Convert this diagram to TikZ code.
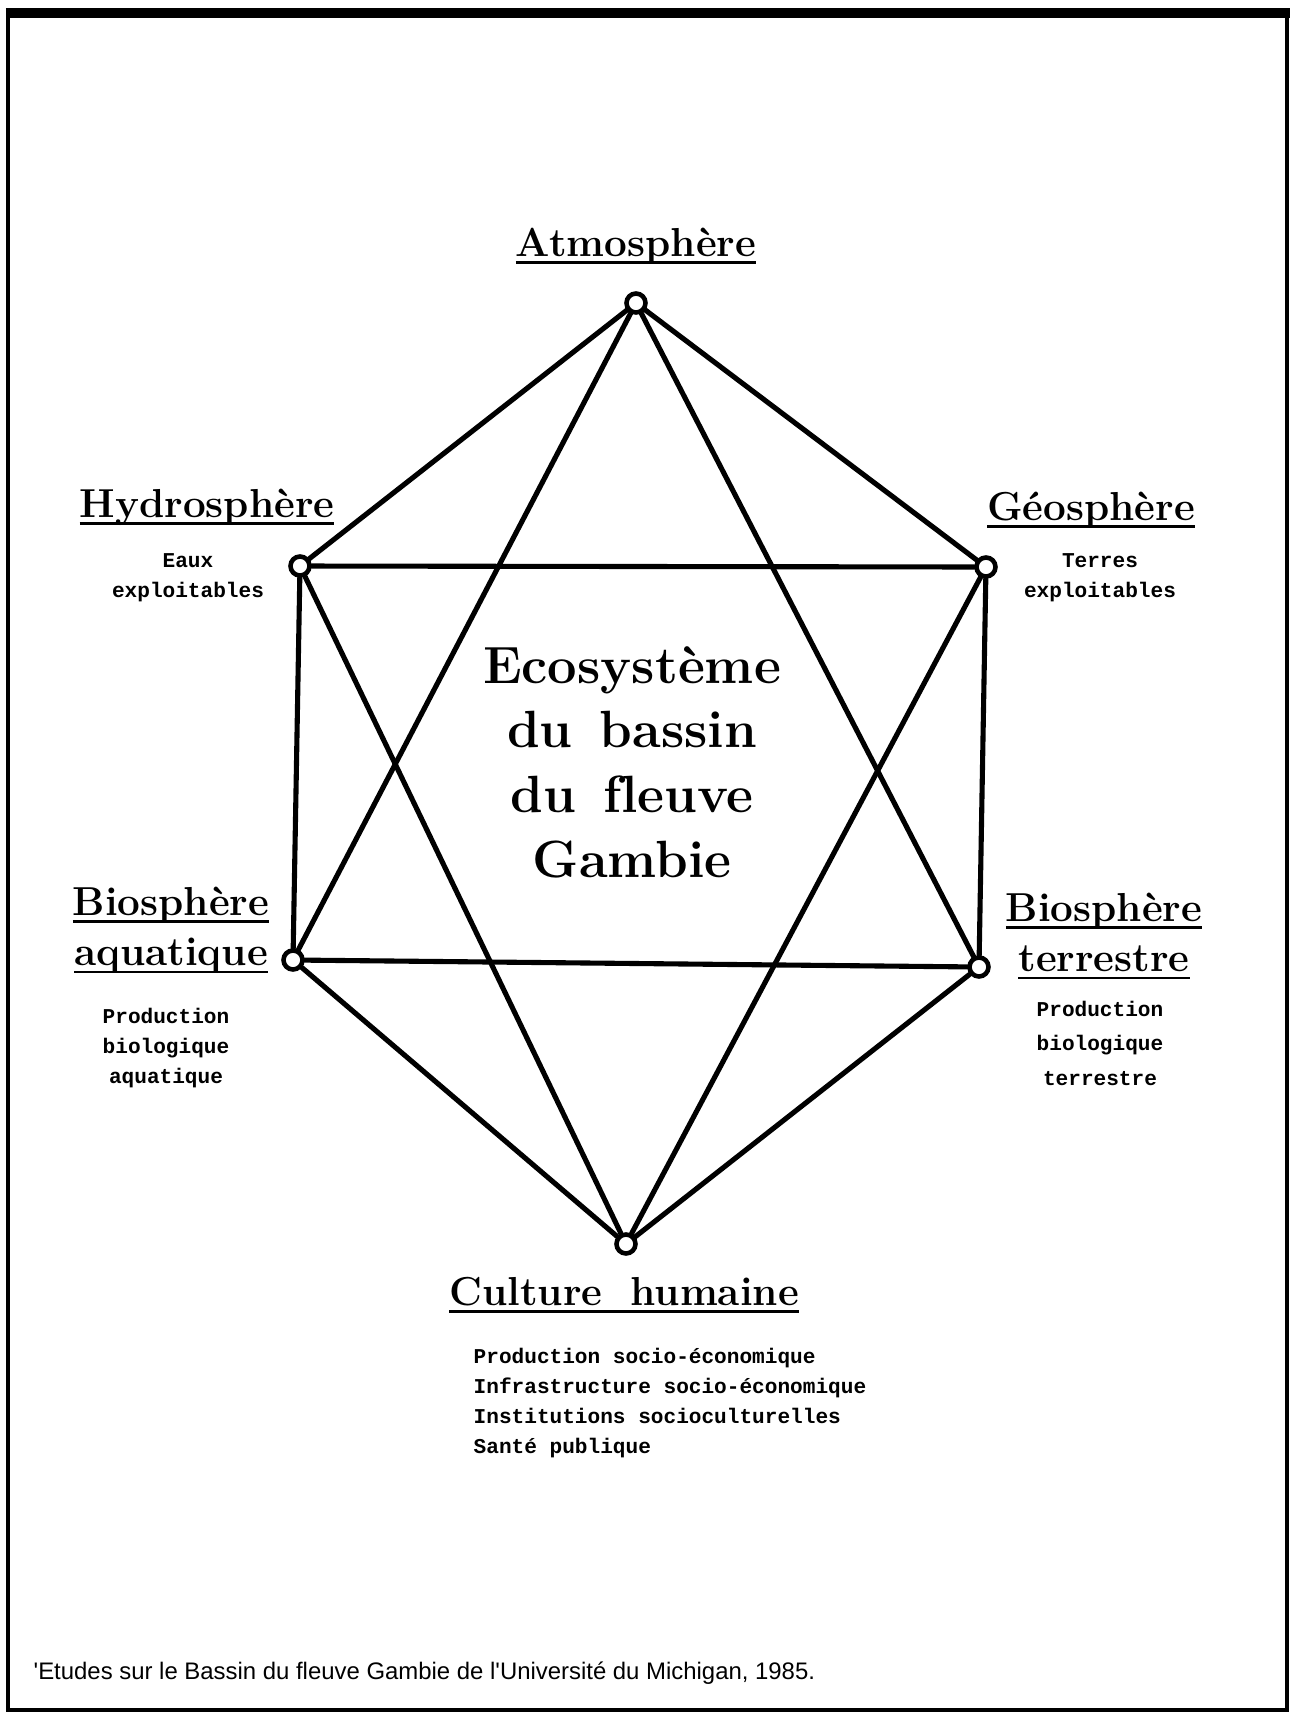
\documentclass[tikz,border=0pt]{standalone}
\usepackage{fontspec}
\newfontfamily\printfont{Liberation Mono}
\newfontfamily\notefont{Liberation Sans}
\usetikzlibrary{positioning}

% underline that runs through the descenders
\newcommand\souligne[1]{\setbox0\hbox{#1}\rlap{\rule[-2.2pt]{\wd0}{0.75pt}}\box0}
\newcommand\grandespace{\spaceskip=0.52em\relax}

\begin{document}
\begin{tikzpicture}[
    x=0.01cm, y=-0.01cm,
    sommet/.style={circle, draw, fill=white, line width=1.3pt,
                   minimum size=5.4pt, inner sep=0pt},
    lien/.style={line width=1.45pt, line cap=round},
    titre/.style={font=\fontsize{11.5}{14.4}\selectfont\bfseries, align=center},
    note/.style={font=\fontsize{6}{8.6}\selectfont\printfont\bfseries, align=center},
    centre/.style={font=\fontsize{14.9}{18.4}\selectfont\bfseries\grandespace,
                   align=center},
  ]
  \useasboundingbox (0,0) rectangle (1293,1717);

  % --- frame ---
  \draw[line width=1.2pt] (8,13) rectangle (1287,1710);
  \draw[line width=2.8pt] (6,13) -- (1290,13);

  % --- the six spheres ---
  \node[sommet] (atm)  at (636,303)  {};
  \node[sommet] (hyd)  at (300,566)  {};
  \node[sommet] (geo)  at (986,567)  {};
  \node[sommet] (bioA) at (293,960)  {};
  \node[sommet] (bioT) at (979,967)  {};
  \node[sommet] (cult) at (626,1244) {};

  % hexagon and the two triangles
  \foreach \a/\b in {atm/hyd, atm/geo, hyd/geo, hyd/bioA, geo/bioT, bioA/bioT,
                     bioA/cult, bioT/cult, atm/bioA, atm/bioT, hyd/cult, geo/cult}
    \draw[lien] (\a) -- (\b);

  % --- labels ---
  \node[titre] (atmT) at (636,246) {\souligne{Atmosphère}};

  \node[titre] (hydT) at (207,507) {\souligne{Hydrosphère}};
  \node[note]  (hydN) at (188,578) {Eaux\\exploitables};

  \node[titre] (geoT) at (1091,510) {\souligne{Géosphère}};
  \node[note]  (geoN) at (1100,578) {Terres\\exploitables};

  \node[titre] (bioAT) at (171,930) {\souligne{Biosphère}\\\souligne{aquatique}};
  \node[note]  (bioAN) at (166,1048) {Production\\biologique\\aquatique};

  \node[titre] (bioTT) at (1104,936) {\souligne{Biosphère}\\\souligne{terrestre}};
  \node[note, font=\fontsize{6}{9.8}\selectfont\printfont\bfseries]
    (bioTN) at (1100,1043) {Production\\biologique\\terrestre};

  \node[titre] (cultT) at (624,1295)
    {\souligne{Culture\hspace{0.7em}humaine}};
  \node[note, align=left, anchor=west, inner sep=0pt] (cultN) at (473,1403)
    {Production socio-économique\\Infrastructure socio-économique\\
     Institutions socioculturelles\\Santé publique};

  \node[centre] (eco) at (632,762)
    {Ecosystème\\du bassin\\du \mbox{f}leuve\\Gambie};

  \node[anchor=west, inner sep=0pt, font=\fontsize{6.8}{7}\selectfont\notefont]
    (src) at (33,1673)
    {'Etudes sur le Bassin du fleuve Gambie de l'Université du Michigan, 1985.};
\end{tikzpicture}
\end{document}
